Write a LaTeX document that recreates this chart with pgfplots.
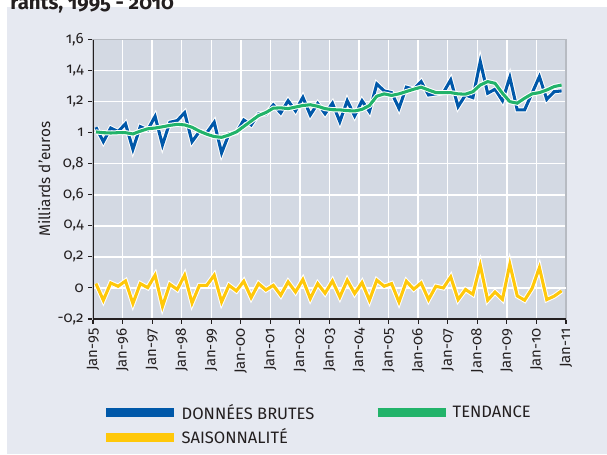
\documentclass[border=0pt]{standalone}
\usepackage{pgfplots}
\pgfplotsset{compat=1.18}
\usepackage{pgfplotstable}
\usepackage{fontspec}
\setmainfont[Numbers=OldStyle]{Fira Sans}

\definecolor{panel}{HTML}{E6E9F1}
\definecolor{plotbg}{HTML}{D3D9E3}
\definecolor{brut}{HTML}{0058A9}
\definecolor{tend}{HTML}{22B36A}
\definecolor{sais}{HTML}{FFC80A}
\definecolor{txt}{HTML}{231F20}
\definecolor{frame}{HTML}{B7BBC2}
\definecolor{zero}{HTML}{A4A7AD}

% quarterly series, 1995 Q1 .. 2010 Q4
\pgfplotstableread{
i brut tend sais
0 1.035 1.005 0.028
1 0.942 1.000 -0.079
2 1.030 0.998 0.032
3 1.007 1.000 0.011
4 1.058 1.000 0.045
5 0.893 0.992 -0.100
6 1.039 1.010 0.028
7 1.018 1.025 0.002
8 1.105 1.030 0.082
9 0.921 1.038 -0.118
10 1.067 1.047 0.024
11 1.078 1.054 -0.010
12 1.129 1.050 0.082
13 0.942 1.035 -0.097
14 1.007 1.010 0.017
15 1.000 0.990 0.017
16 1.067 0.975 0.082
17 0.870 0.970 -0.090
18 0.992 0.985 0.017
19 1.000 1.005 -0.019
20 1.082 1.040 0.043
21 1.050 1.075 -0.062
22 1.121 1.110 0.028
23 1.121 1.130 -0.013
24 1.179 1.158 0.017
25 1.127 1.160 -0.047
26 1.206 1.155 0.039
27 1.140 1.165 -0.026
28 1.228 1.175 0.054
29 1.114 1.180 -0.068
30 1.188 1.170 0.028
31 1.122 1.155 -0.034
32 1.190 1.148 0.045
33 1.071 1.147 -0.058
34 1.206 1.142 0.050
35 1.108 1.140 -0.036
36 1.206 1.150 0.035
37 1.136 1.175 -0.079
38 1.314 1.235 0.050
39 1.269 1.250 0.011
40 1.258 1.240 0.028
41 1.157 1.250 -0.090
42 1.293 1.265 0.043
43 1.280 1.280 -0.008
44 1.329 1.293 0.032
45 1.243 1.275 -0.075
46 1.250 1.258 0.011
47 1.258 1.258 0.000
48 1.340 1.258 0.071
49 1.168 1.250 -0.075
50 1.243 1.248 -0.010
51 1.226 1.264 -0.041
52 1.458 1.307 0.146
53 1.254 1.329 -0.079
54 1.280 1.318 -0.026
55 1.206 1.254 -0.073
56 1.357 1.200 0.153
57 1.147 1.190 -0.051
58 1.147 1.222 -0.079
59 1.254 1.250 -0.004
60 1.361 1.258 0.131
61 1.215 1.275 -0.075
62 1.264 1.297 -0.053
63 1.269 1.307 -0.019
}\data

\begin{document}
\begin{tikzpicture}[font=\fontsize{11.2pt}{13pt}\selectfont\color{txt}]
% 1 px of the reference = 0.75pt; page 455.25pt x 340.5pt
\fill[panel] (5.25pt,0pt) rectangle (455.25pt,335.25pt);
\node[anchor=base west,font=\fontsize{15.3pt}{17pt}\selectfont\bfseries,text=txt,inner sep=0pt]
  at (7.5pt,333.4pt) {rants, 1995 - 2010};

\begin{axis}[
  at={(69.75pt,101.25pt)}, anchor=south west,
  scale only axis, width=354.75pt, height=209.6pt,
  xmin=-0.4, xmax=63.6, ymin=-0.2, ymax=1.6,
  xtick={-0.4,3.6,...,63.6},
  xticklabels={Jan-95,Jan-96,Jan-97,Jan-98,Jan-99,Jan-00,Jan-01,Jan-02,Jan-03,Jan-04,Jan-05,Jan-06,Jan-07,Jan-08,Jan-09,Jan-10,Jan-11},
  x tick label style={rotate=90,anchor=east},
  ytick={-0.2,0,...,1.6},
  /pgf/number format/use comma,
  /pgf/number format/assume math mode=true,
  tick label style={font=\fontsize{11.2pt}{13pt}\selectfont,text=txt},
  xtick pos=left, ytick pos=left, tick align=outside,
  major tick length=3.5pt, tick style={txt,line width=0.8pt},
  grid=major, major grid style={white,line width=1.1pt},
  extra y ticks={0}, extra y tick labels={},
  extra y tick style={grid style={zero,line width=1.6pt},major tick length=0pt},
  axis line style={frame,line width=1pt},
  axis background/.style={fill=plotbg},
  ylabel={Milliards d'euros},
  ylabel shift=-5pt,
  ylabel style={font=\fontsize{11.5pt}{13pt}\selectfont,text=txt},
  legend columns=2,
  legend cell align=left,
  legend style={at={(0.01,-0.285)},anchor=north west,draw=none,fill=none,
    font=\fontsize{12.4pt}{14pt}\selectfont,text=txt,
    row sep=1.5pt,
    /tikz/every even column/.append style={column sep=42pt}},
  legend image code/.code={\draw[#1,line width=6.75pt,line cap=butt] (0pt,0pt) -- (51pt,0pt);},
]
\addplot[white,line width=3.8pt,forget plot] table[x=i,y=brut]{\data};
\addplot[brut,line width=2.3pt] table[x=i,y=brut]{\data};
\addlegendentry{DONNÉES BRUTES}
\addplot[white,line width=3.8pt,forget plot] table[x=i,y=tend]{\data};
\addplot[tend,line width=2.3pt] table[x=i,y=tend]{\data};
\addlegendentry{TENDANCE}
\addplot[white,line width=3.8pt,forget plot] table[x=i,y=sais]{\data};
\addplot[sais,line width=2.3pt] table[x=i,y=sais]{\data};
\addlegendentry{SAISONNALITÉ}
\draw[txt,line width=1.1pt] (rel axis cs:0,1) -- (rel axis cs:0,0) -- (rel axis cs:1,0);
\end{axis}

\pgfresetboundingbox
\path[use as bounding box] (0pt,0pt) rectangle (455.25pt,340.5pt);
\end{tikzpicture}
\end{document}
